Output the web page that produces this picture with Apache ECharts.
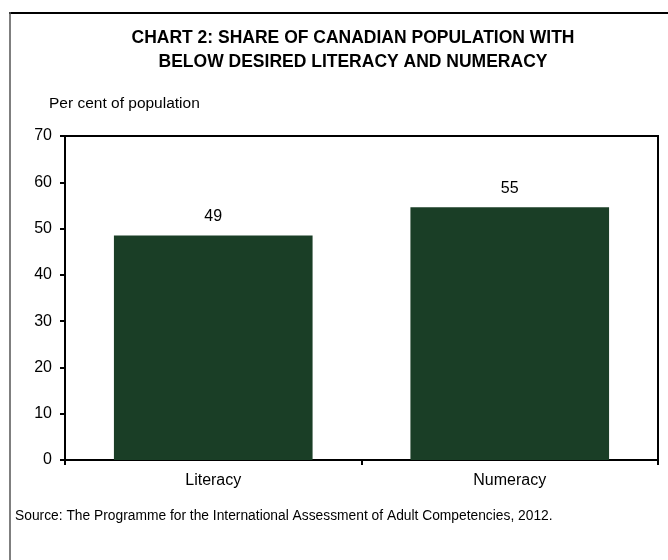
<!DOCTYPE html>
<html><head><meta charset="utf-8">
<script src="https://cdn.jsdelivr.net/npm/echarts@6/dist/echarts.min.js"></script>
<style>html,body{margin:0;padding:0;background:#fff}#c{width:668px;height:560px}</style>
</head><body><div id="c"></div>
<script>
var categories = ['Literacy', 'Numeracy'];
var values = [48.5, 54.6];
var yTicks = [0, 10, 20, 30, 40, 50, 60, 70];
var titleText = 'CHART 2: SHARE OF CANADIAN POPULATION WITH\nBELOW DESIRED LITERACY AND NUMERACY';
var unitText = 'Per cent of population';
var sourceText = 'Source: The Programme for the International Assessment of Adult Competencies, 2012.';

var chart = echarts.init(document.getElementById('c'), null, {renderer: 'canvas'});
var font = '"Liberation Sans", Arial, sans-serif';
chart.setOption({
  animation: false,
  textStyle: {fontFamily: font},
  title: [{
    text: titleText, left: 348, top: 21, textAlign: 'center',
    textStyle: {fontFamily: font, fontSize: 17.5, fontWeight: 'bold', color: '#000', lineHeight: 24}
  }, {
    text: unitText, left: 44, top: 91,
    textStyle: {fontFamily: font, fontSize: 15.5, fontWeight: 'normal', color: '#000'}
  }, {
    text: sourceText, left: 10, top: 504,
    textStyle: {fontFamily: font, fontSize: 13.8, fontWeight: 'normal', color: '#000'}
  }],
  graphic: [{
    type: 'line', shape: {x1: 9, y1: 13, x2: 668, y2: 13},
    style: {stroke: '#000', lineWidth: 2}, silent: true
  }, {
    type: 'line', shape: {x1: 10, y1: 12, x2: 10, y2: 560},
    style: {stroke: '#555', lineWidth: 1.5}, silent: true
  }],
  grid: {left: 65, right: 10, top: 136, bottom: 100, show: true, borderColor: '#000', borderWidth: 2, backgroundColor: 'transparent'},
  xAxis: {
    type: 'category', data: categories,
    axisLine: {lineStyle: {color: '#000', width: 2}},
    axisTick: {show: true, inside: false, length: 5, lineStyle: {color: '#000', width: 2}},
    axisLabel: {color: '#000', fontSize: 16, fontFamily: font, margin: 13},
    splitLine: {show: false}
  },
  yAxis: {
    type: 'value', min: yTicks[0], max: yTicks[yTicks.length - 1], interval: 10,
    axisLine: {show: true, lineStyle: {color: '#000', width: 2}},
    axisTick: {show: true, inside: false, length: 5, lineStyle: {color: '#000', width: 2}},
    axisLabel: {color: '#000', fontSize: 16, fontFamily: font, margin: 13},
    splitLine: {show: false}
  },
  series: [{
    type: 'bar', data: values, barWidth: '67%',
    itemStyle: {color: '#1a3e26'},
    label: {show: true, position: 'top', distance: 11, color: '#000', fontSize: 16, fontFamily: font,
      formatter: function (p) { return Math.round(p.value); }}
  }]
});
</script></body></html>
